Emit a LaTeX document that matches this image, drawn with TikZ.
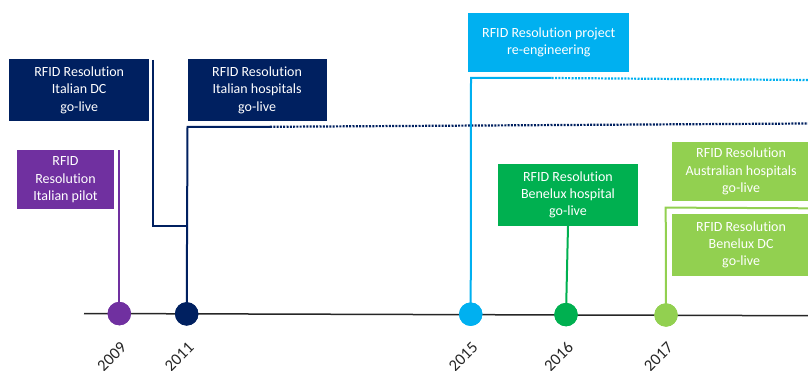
\documentclass[tikz,border=0pt]{standalone}
\usepackage{fontspec}
\setmainfont{Carlito}[Ligatures={NoCommon}]
\begin{document}
\definecolor{cpurple}{HTML}{7030A0}
\definecolor{cnavy}{HTML}{002060}
\definecolor{cblue}{HTML}{00B0F0}
\definecolor{cgreen}{HTML}{00B050}
\definecolor{clime}{HTML}{92D050}
\definecolor{caxis}{HTML}{262626}
\begin{tikzpicture}[x=1pt,y=-1pt,
  event/.style={fill=#1, text=white, align=center, inner sep=0pt,
    font=\fontsize{14}{17.3}\selectfont},
  milestone/.style={circle, fill=#1, minimum size=23.4pt, inner sep=0pt},
  link/.style={draw=#1, line width=2pt},
  trail/.style={draw=#1, line width=2.2pt, dash pattern=on 2pt off 1.3pt},
  year/.style={rotate=45, text=caxis, font=\fontsize{16.5}{17}\selectfont, inner sep=0pt}]
\useasboundingbox (0,0) rectangle (808,371);
\clip (0,0) rectangle (808,371);

% event boxes
\node[event=cpurple, minimum width=97.6pt, minimum height=59.3pt] (pilot) at (65.5,179.7) {RFID\\Resolution\\Italian pilot};
\node[event=cnavy, minimum width=140.3pt, minimum height=61.7pt] (dc) at (79.2,90.2) {RFID Resolution\\Italian DC\\go-live};
\node[event=cnavy, minimum width=139.2pt, minimum height=61.7pt] (hosp) at (257.1,90.2) {RFID Resolution\\Italian hospitals\\go-live};
\node[event=cblue, minimum width=161pt, minimum height=59pt] (reeng) at (548.8,42.2) {RFID Resolution project\\re-engineering};
\node[event=cgreen, minimum width=139.4pt, minimum height=61.4pt] (benhosp) at (568,195) {RFID Resolution\\Benelux hospital\\go-live};
\node[event=clime, minimum width=138.8pt, minimum height=59.3pt] (aus) at (741.1,171.4) {RFID Resolution\\Australian hospitals\\go-live};
\node[event=clime, minimum width=138.8pt, minimum height=61.4pt] (bendc) at (741.1,245) {RFID Resolution\\Benelux DC\\go-live};

% timeline axis
\coordinate (axisL) at (84,313.5);
\coordinate (axisR) at (808,315.7);
\draw[caxis, line width=1.5pt] (axisL) -- (axisR);

% milestone markers
\node[milestone=cpurple] (m09) at (119.3,313.6) {};
\node[milestone=cnavy] (m11) at (186.7,313.9) {};
\node[milestone=cblue] (m15) at (470.7,314.2) {};
\node[milestone=cgreen] (m16) at (566,314.6) {};
\node[milestone=clime] (m17) at (666,315) {};

% connector bend points and open ends
\coordinate (dcTop) at (152.5,60);
\coordinate (dcBend) at (152.5,226);
\coordinate (hospBend) at (187.5,127);
\coordinate (hospSolid) at (270,126.8);
\coordinate (hospEnd) at (808,123.5);
\coordinate (reBend) at (471,78);
\coordinate (reSolid) at (551.7,78);
\coordinate (reEnd) at (808,80);
\coordinate (limeBend) at (665.7,207.6);
\coordinate (limeEnd) at (808,208.3);

% connectors
\draw[link=cpurple] (m09.center) -- (m09.center |- pilot.north);
\draw[link=cnavy] (m11.center) -- (hospBend) -- (hospSolid);
\draw[trail=cnavy] (hospSolid) -- (hospEnd);
\draw[link=cnavy] (dcTop) -- (dcBend) -- (dcBend -| hospBend);
\draw[link=cblue] (m15.center) -- (reBend) -- (reSolid);
\draw[trail=cblue] (reSolid) -- (reEnd);
\draw[link=cgreen] (m16.center) -- (benhosp.south);
\draw[link=clime] (m17.center) -- (limeBend) -- (limeEnd);

% markers redrawn on top of the connectors
\node[milestone=cpurple] at (m09) {};
\node[milestone=cnavy] at (m11) {};
\node[milestone=cblue] at (m15) {};
\node[milestone=cgreen] at (m16) {};
\node[milestone=clime] at (m17) {};

% year labels
\node[year] (y09) at (111.8,356.5) {2009};
\node[year] (y11) at (179.2,356.5) {2011};
\node[year] (y15) at (463.2,356.5) {2015};
\node[year] (y16) at (558.5,356.5) {2016};
\node[year] (y17) at (658.5,356.5) {2017};
\end{tikzpicture}
\end{document}
